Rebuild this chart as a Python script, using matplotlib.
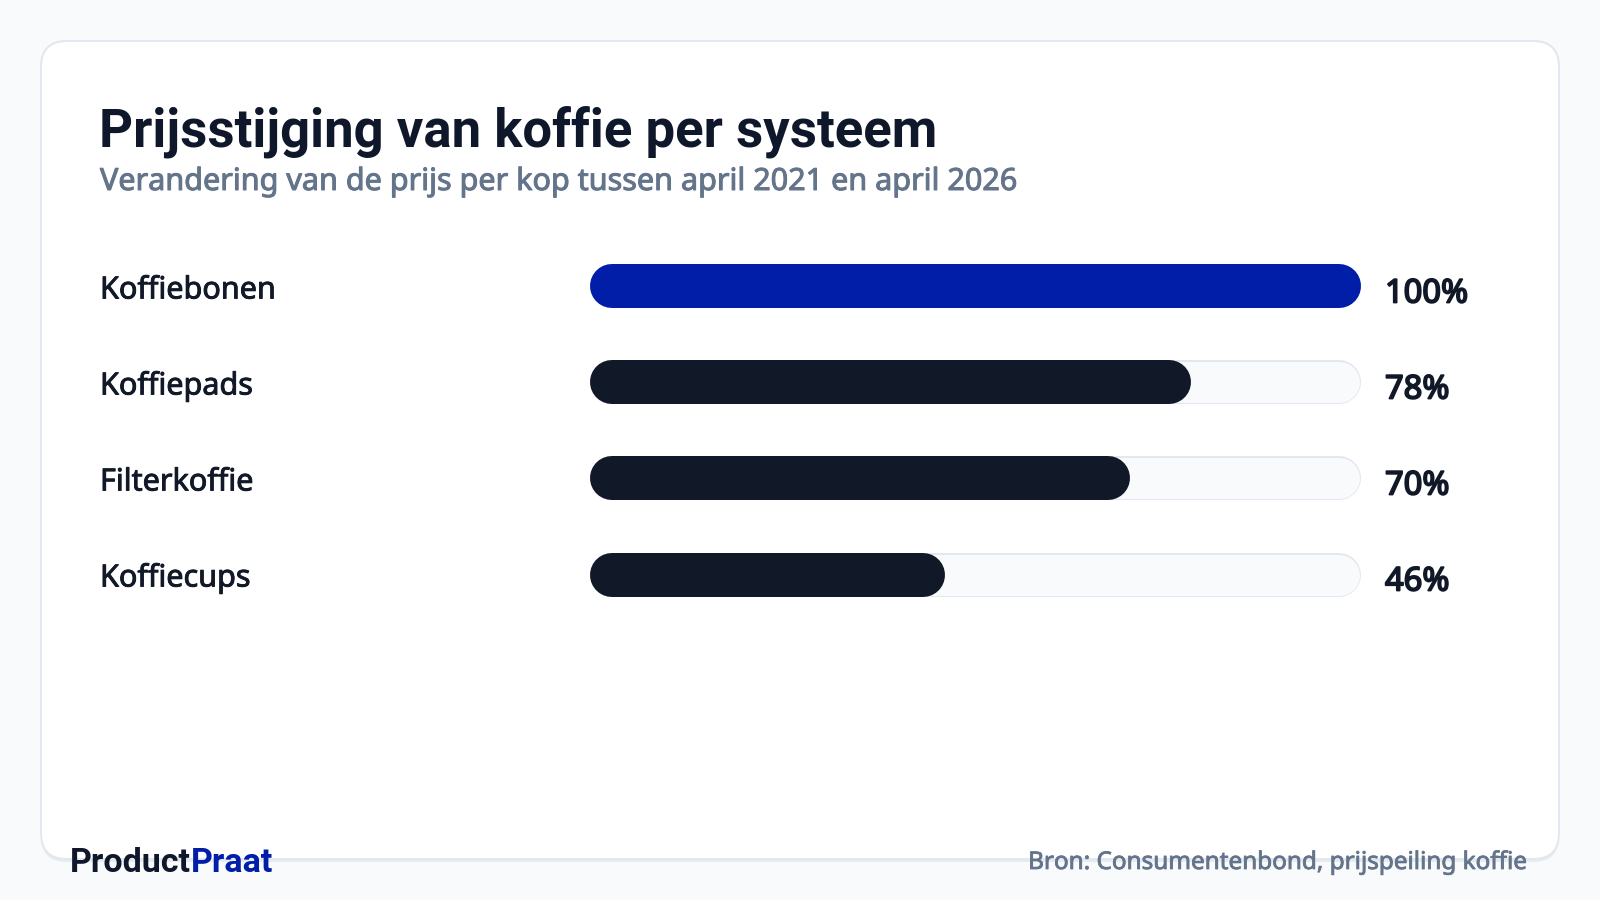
import matplotlib.pyplot as plt
import matplotlib.patheffects as pe
from matplotlib.patches import FancyBboxPatch

# data
categories = ["Koffiebonen", "Koffiepads", "Filterkoffie", "Koffiecups"]
values = [100, 78, 70, 46]
highlight = "Koffiebonen"

title = "Prijsstijging van koffie per systeem"
subtitle = "Verandering van de prijs per kop tussen april 2021 en april 2026"
source = "Bron: Consumentenbond, prijspeiling koffie"
brand_a, brand_b = "Product", "Praat"

# kleuren
BG = "#f8fafc"
BORDER = "#e2e8f0"
DARK = "#0f172a"
BAR_DARK = "#111827"
BLUE = "#001ea8"
MUTED = "#64748b"

W, H, DPI = 1600, 900, 100
PX = 72 / DPI  # pixels -> points
SANS = ["Noto Sans", "DejaVu Sans"]


def heavy(color, px):
    # Noto Sans heeft hier geen semibold/bold, dus een dunne omlijning
    return [pe.withStroke(linewidth=px * PX, foreground=color)]


fig = plt.figure(figsize=(W / DPI, H / DPI), dpi=DPI, facecolor=BG)

# achtergrond-laag in pixelcoordinaten
bg = fig.add_axes([0, 0, 1, 1], zorder=0)
bg.set_xlim(0, W)
bg.set_ylim(H, 0)
bg.axis("off")

# kaart met schaduwrand
shadow = FancyBboxPatch((41, 44), 1518, 818, boxstyle="round,pad=0,rounding_size=26",
                        facecolor="#e6ebf2", edgecolor="none")
bg.add_patch(shadow)
card = FancyBboxPatch((41, 41), 1518, 818, boxstyle="round,pad=0,rounding_size=26",
                      facecolor="white", edgecolor=BORDER, linewidth=2 * PX)
bg.add_patch(card)

bg.text(99, 146, title, fontsize=37.9, fontweight="bold", family=["Roboto", "DejaVu Sans"],
        color=DARK, va="baseline", ha="left")
bg.text(100, 190, subtitle, fontsize=22, family=SANS, color=MUTED,
        va="baseline", ha="left", path_effects=heavy(MUTED, 1.0))

# footer
t1 = bg.text(70, 872, brand_a, fontsize=24.5, fontweight="bold",
             family=["Roboto", "DejaVu Sans"], color=DARK, va="baseline", ha="left")
bg.annotate(brand_b, xy=(1, 0), xycoords=t1, fontsize=24.5, fontweight="bold",
            family=["Roboto", "DejaVu Sans"], color=BLUE, va="bottom", ha="left")
bg.text(1529, 869, source, fontsize=17.5, family=SANS, color=MUTED,
        va="baseline", ha="right", path_effects=heavy(MUTED, 0.8))

# balken-as: 0..100 over 590..1361 px
bx0, bx1 = 590, 1361
row_top, row_bot = 238.5, 622.5
ax = fig.add_axes([bx0 / W, (H - row_bot) / H, (bx1 - bx0) / W, (row_bot - row_top) / H],
                  zorder=1)
ax.patch.set_alpha(0)
ax.set_xlim(0, 100)
ax.set_ylim(len(categories) - 0.5, -0.5)
for s in ax.spines.values():
    s.set_visible(False)

bar_px = 44
r = (bar_px / 2) / ((bx1 - bx0) / 100)  # afronding in data-eenheden

for i, (cat, v) in enumerate(zip(categories, values)):
    # track
    ax.plot([r, 100 - r], [i, i], color=BORDER, lw=bar_px * PX, solid_capstyle="round")
    ax.plot([r, 100 - r], [i, i], color=BG, lw=(bar_px - 3) * PX, solid_capstyle="round")
    # waarde
    c = BLUE if cat == highlight else BAR_DARK
    ax.plot([r, v - r], [i, i], color=c, lw=bar_px * PX, solid_capstyle="round")
    ax.annotate(f"{v}%", xy=(100, i), xytext=(24 * PX, -16 * PX), textcoords="offset points",
                fontsize=23.5, family=SANS, color=BAR_DARK, va="baseline", ha="left",
                path_effects=heavy(BAR_DARK, 1.8))
    ax.annotate(cat, xy=(0, i), xytext=(-(bx0 - 100) * PX, -12 * PX),
                textcoords="offset points", fontsize=22, family=SANS, color=BAR_DARK,
                va="baseline", ha="left", annotation_clip=False,
                path_effects=heavy(BAR_DARK, 0.9))

ax.set_xticks([])
ax.set_yticks([])

fig.savefig("out.png", dpi=DPI, facecolor=BG)
